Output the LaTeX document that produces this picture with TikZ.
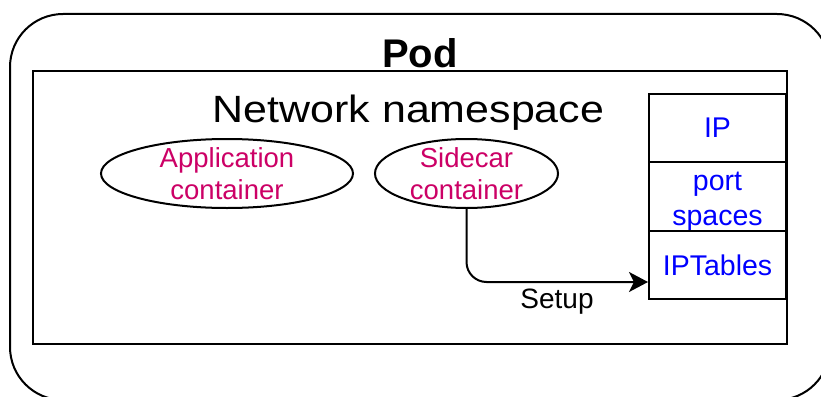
\documentclass[tikz,border=0pt]{standalone}
\usepackage{fontspec}
\setmainfont{Liberation Sans}
\usetikzlibrary{shapes.geometric,arrows.meta}
\definecolor{ctrcol}{HTML}{CC0066}
\definecolor{netcol}{HTML}{0000FF}
\tikzset{
  frame/.style={draw=black, line width=2pt, inner sep=0pt},
  cell/.style={frame, minimum width=137pt, minimum height=68.5pt, align=center,
    text=netcol, font=\fontsize{28.5}{35}\selectfont},
  celltext/.style={inner sep=0pt, align=center, text=netcol, font=\fontsize{28.5}{35}\selectfont},
  ctr/.style={draw=black, line width=2pt, ellipse, inner sep=0pt, minimum height=69pt},
  ctrtext/.style={inner sep=0pt, align=center, text=ctrcol, font=\fontsize{27.5}{32}\selectfont},
  lbl/.style={inner sep=0pt, anchor=base},
  flow/.style={draw=black, line width=2pt, rounded corners=20pt,
    -{Stealth[length=19pt, width=20pt, inset=5pt]}}
}
\begin{document}
\begin{tikzpicture}[x=1pt, y=-1pt]
  \clip (0,0) rectangle (821,396);
  \fill[white] (0,0) rectangle (821,396);

  % pod and its network namespace
  \node[frame, rounded corners=53pt, minimum width=820pt, minimum height=386pt] (pod) at (420,207) {};
  \node[frame, minimum width=754pt, minimum height=273pt] (ns) at (410,207.5) {};
  \node[lbl, font=\fontsize{40}{46}\selectfont\bfseries] (podlbl) at (420,67) {Pod};
  \node[lbl, font=\fontsize{38}{44}\selectfont] (nslbl) at (408.5,122) {\scalebox{1.13}[1]{Network namespace}};

  % containers
  \node[ctr, minimum width=252pt] (app) at (227,173.5) {};
  \node[ctrtext] (apptxt) at (app) {Application\\container};
  \node[ctr, minimum width=183pt] (side) at (466.5,173.5) {};
  \node[ctrtext] (sidetxt) at (side) {Sidecar\\container};

  % network resources
  \node[cell] (ip) at (717.5,128) {IP};
  \node[cell] (ports) at (717.5,196.5) {};
  \node[celltext, yshift=-5pt] (portstxt) at (ports) {port\\spaces};
  \node[cell] (ipt) at (717.5,265) {IPTables};

  % sidecar sets up iptables
  \draw[flow] (side.south) |- ([yshift=-17pt]ipt.west);
  \node[lbl, font=\fontsize{28}{32}\selectfont] (setup) at (557,308) {Setup};
\end{tikzpicture}
\end{document}
